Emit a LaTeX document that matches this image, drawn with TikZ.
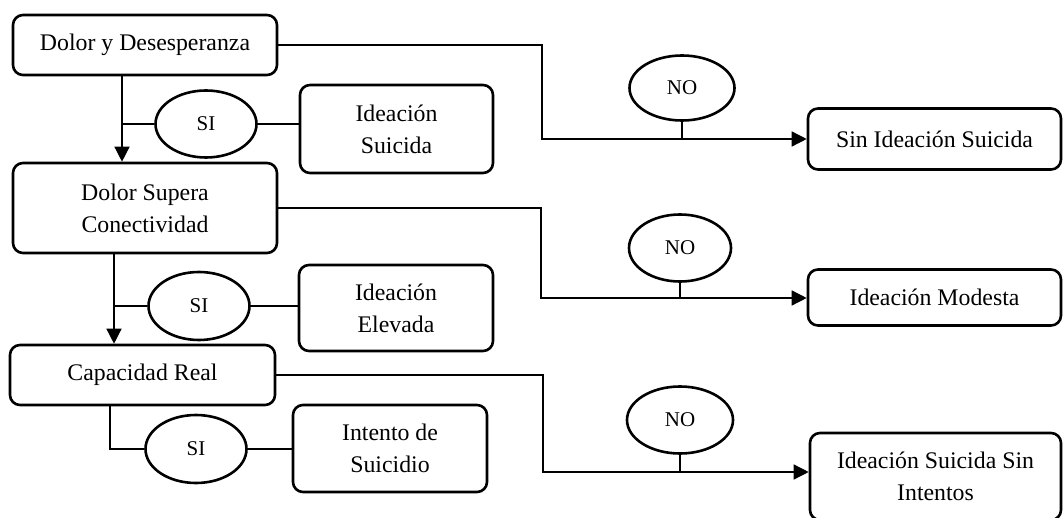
\documentclass[tikz,border=0pt]{standalone}
\usepackage{fontspec}
\setmainfont{Liberation Serif}
\usetikzlibrary{arrows.meta,shapes.geometric}

\tikzset{
  box/.style={draw, line width=2.6pt, rounded corners=10pt, inner sep=0pt,
    align=center, font=\fontsize{23.8}{32}\selectfont},
  oval/.style={draw, ellipse, line width=2.6pt, inner sep=0pt,
    font=\fontsize{21}{25}\selectfont},
  link/.style={line width=1.4pt},
  arrowlink/.style={line width=1.4pt, -{Triangle[length=15pt,width=15pt]}}
}

\begin{document}
\begin{tikzpicture}[x=1pt,y=-1pt]
\useasboundingbox (0,0) rectangle (1064,518);

% main column
\node[box, minimum width=264pt, minimum height=60pt] (A) at (145,45) {Dolor y Desesperanza};
\node[box, minimum width=264pt, minimum height=90pt] (B) at (145,208) {Dolor Supera\\Conectividad};
\node[box, minimum width=265pt, minimum height=60pt] (C) at (142.5,375) {Capacidad Real};

% SI branch outcomes
\node[box, minimum width=193pt, minimum height=88pt] (IS) at (396.5,129) {Ideación\\Suicida};
\node[box, minimum width=194pt, minimum height=86pt] (IE) at (396,308) {Ideación\\Elevada};
\node[box, minimum width=194pt, minimum height=87pt] (IT) at (390,448.5) {Intento de\\Suicidio};

% NO branch outcomes
\node[box, minimum width=253pt, minimum height=61pt] (SIS) at (934.5,139) {Sin Ideación Suicida};
\node[box, minimum width=253pt, minimum height=56pt] (IM) at (934.5,297.5) {Ideación Modesta};
\node[box, minimum width=251pt, minimum height=87pt] (ISSI) at (935.5,476.5) {Ideación Suicida Sin\\Intentos};

% decision ovals
\node[oval, minimum width=101pt, minimum height=67pt] (si1) at (206,124) {SI};
\node[oval, minimum width=101pt, minimum height=68pt] (si2) at (199,306) {SI};
\node[oval, minimum width=101pt, minimum height=68pt] (si3) at (196,449) {SI};
\node[oval, minimum width=105pt, minimum height=65pt] (no1) at (682,88) {NO};
\node[oval, minimum width=102pt, minimum height=67pt] (no2) at (680,248) {NO};
\node[oval, minimum width=106pt, minimum height=67pt] (no3) at (680,420) {NO};

% junction points
\coordinate (j1) at (122,124);
\coordinate (j2) at (114,306);
\coordinate (j3) at (110,449);
\coordinate (k1) at (542,139);
\coordinate (k2) at (541,298);
\coordinate (k3) at (543,472);

% SI path
\draw[arrowlink] (j1 |- A.south) -- (j1 |- B.north);
\draw[link] (si1.west) -- (j1);
\draw[link] (si1.east) -- (IS.west |- si1.east);

\draw[arrowlink] (j2 |- B.south) -- (j2 |- C.north);
\draw[link] (si2.west) -- (j2);
\draw[link] (si2.east) -- (IE.west |- si2.east);

\draw[link] (j3 |- C.south) -- (j3) -- (si3.west);
\draw[link] (si3.east) -- (IT.west |- si3.east);

% NO path
\draw[arrowlink] (A.east) -| (k1) -- (SIS.west |- k1);
\draw[link] (no1.south) -- (no1.south |- k1);

\draw[arrowlink] (B.east) -| (k2) -- (IM.west |- k2);
\draw[link] (no2.south) -- (no2.south |- k2);

\draw[arrowlink] (C.east) -| (k3) -- (ISSI.west |- k3);
\draw[link] (no3.south) -- (no3.south |- k3);
\end{tikzpicture}
\end{document}
